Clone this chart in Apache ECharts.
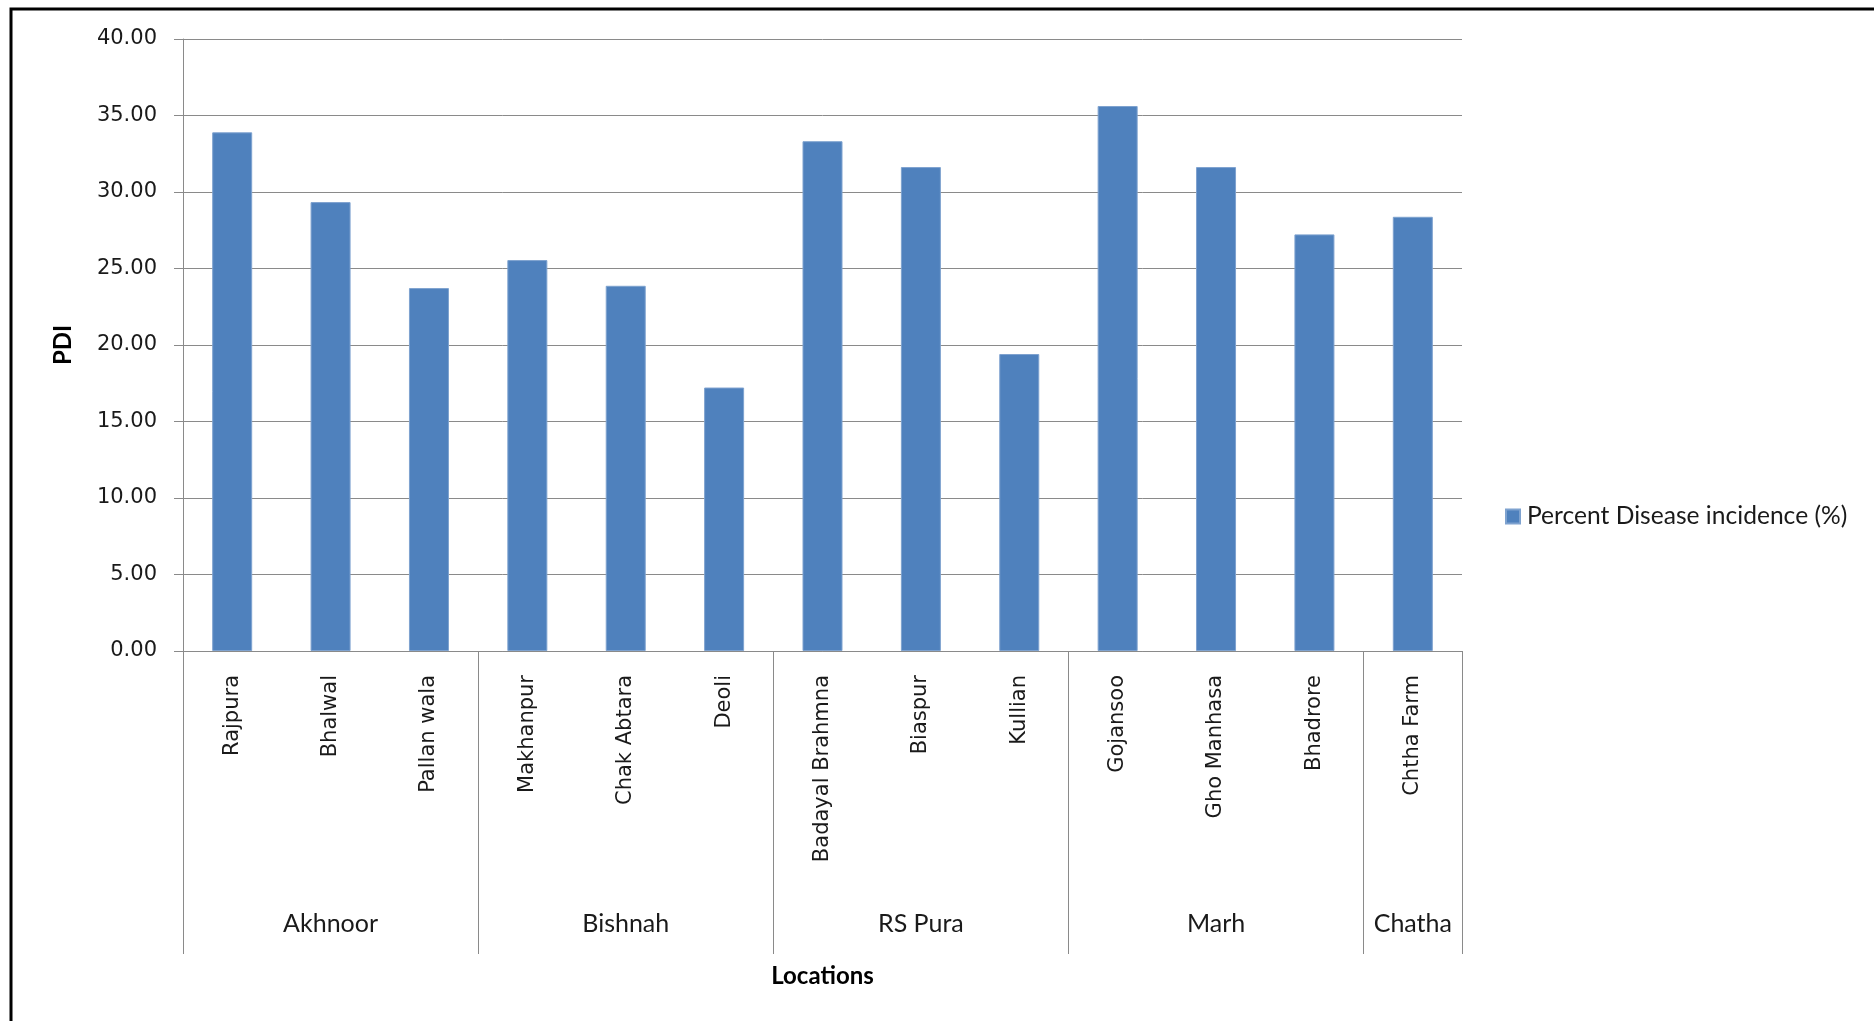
<!DOCTYPE html>
<html>
<head>
<meta charset="utf-8">
<script src="https://cdn.jsdelivr.net/npm/echarts@6/dist/echarts.min.js"></script>
<style>
html,body{margin:0;padding:0;background:#fff;}
#chart{width:1874px;height:1021px;}
</style>
</head>
<body>
<div id="chart"></div>
<script>
// ---- data ----
const categories = ['Rajpura','Bhalwal','Pallan wala','Makhanpur','Chak Abtara','Deoli','Badayal Brahmna','Biaspur','Kullian','Gojansoo','Gho Manhasa','Bhadrore','Chtha Farm'];
const pdiValues = [33.90, 29.34, 23.72, 25.55, 23.87, 17.22, 33.32, 31.63, 19.41, 35.62, 31.63, 27.23, 28.38];
const groupNames = ['Akhnoor','Bishnah','RS Pura','Marh','Chatha'];
const groupSizes = [3, 3, 3, 3, 1];
const yMin = 0, yMax = 40, yStep = 5;
const seriesName = 'Percent Disease incidence (%)';

// ---- derived group axis data ----
const groupLabelData = categories.map(() => '');
const groupStarts = [];
let start = 0;
groupNames.forEach((g, i) => {
  groupStarts.push(start);
  groupLabelData[start + Math.floor((groupSizes[i] - 1) / 2)] = g;
  start += groupSizes[i];
});

const chart = echarts.init(document.getElementById('chart'));
const gray = '#8a8a8a';
const txt = '#1a1a1a';

chart.setOption({
  animation: false,
  backgroundColor: '#fff',
  graphic: [{
    type: 'rect',
    shape: { x: 11, y: 9, width: 3000, height: 3000 },
    style: { fill: 'none', stroke: '#000', lineWidth: 3 },
    silent: true
  }],
  grid: { left: 183, right: 412, top: 39, bottom: 370, containLabel: false },
  legend: {
    orient: 'vertical',
    left: 1505,
    top: 504,
    padding: 0,
    icon: 'rect',
    itemWidth: 14,
    itemHeight: 14,
    itemGap: 6,
    textStyle: { fontFamily: 'Lato', fontSize: 24.6, color: txt, padding: [0, 0, 0, 2] },
    data: [seriesName]
  },
  xAxis: [{
    type: 'category',
    position: 'bottom',
    data: categories,
    axisLine: { show: true, lineStyle: { color: gray, width: 1 } },
    axisTick: { show: false },
    axisLabel: {
      interval: 0,
      rotate: 90,
      margin: 24,
      fontFamily: 'DejaVu Sans',
      fontSize: 21,
      color: txt
    },
    name: 'Locations',
    nameLocation: 'middle',
    nameGap: 313,
    nameTextStyle: { fontFamily: 'Lato', fontWeight: 'bold', fontSize: 24, color: '#000' }
  }, {
    type: 'category',
    position: 'bottom',
    data: groupLabelData,
    axisLine: { show: false },
    axisTick: {
      show: true,
      length: 303,
      interval: (index) => groupStarts.indexOf(index) >= 0,
      lineStyle: { color: gray, width: 1 }
    },
    axisLabel: {
      interval: 0,
      margin: 260,
      fontFamily: 'Lato',
      fontSize: 25,
      color: txt
    }
  }],
  yAxis: {
    type: 'value',
    min: yMin,
    max: yMax,
    interval: yStep,
    axisLine: { show: true, lineStyle: { color: gray, width: 1 } },
    axisTick: { show: true, inside: false, length: 9, lineStyle: { color: gray } },
    splitLine: { show: true, lineStyle: { color: gray, width: 1 } },
    axisLabel: {
      margin: 26,
      fontFamily: 'DejaVu Sans',
      fontSize: 21,
      color: txt,
      formatter: (v) => v.toFixed(2)
    },
    name: 'PDI',
    nameLocation: 'middle',
    nameGap: 108,
    nameRotate: 90,
    nameTextStyle: { fontFamily: 'Lato', fontWeight: 'bold', fontSize: 24, color: '#000' }
  },
  series: [{
    name: seriesName,
    type: 'bar',
    xAxisIndex: 0,
    data: pdiValues,
    barWidth: 40,
    itemStyle: { color: '#4F81BD', borderColor: '#7EA2CF', borderWidth: 1 }
  }]
});
</script>
</body>
</html>
